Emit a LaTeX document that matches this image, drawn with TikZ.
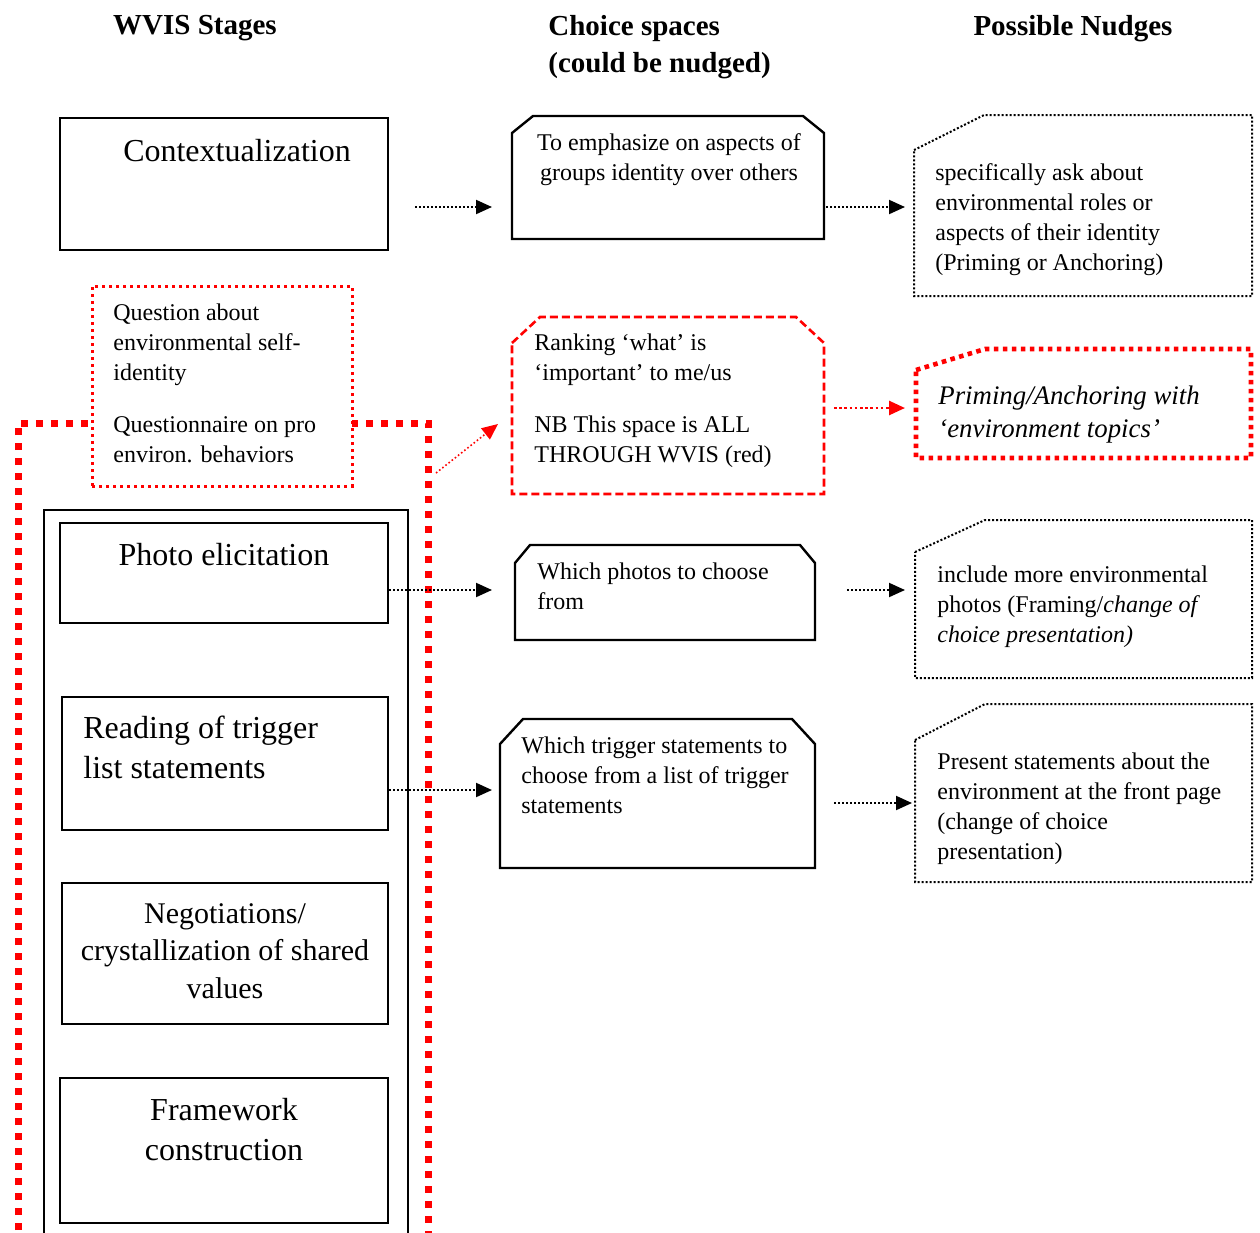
\documentclass[tikz,border=0pt]{standalone}
\usepackage{fontspec}
\setmainfont{Liberation Serif}
\usetikzlibrary{arrows.meta}

% outline with both top corners cut / with the top left corner cut
\newcommand{\twocut}[4][]{\draw[#1] ([yshift=-#4]#2.north west) -- ([xshift=#3]#2.north west) -- ([xshift=-#3]#2.north east) -- ([yshift=-#4]#2.north east) -- (#2.south east) -- (#2.south west) -- cycle;}
\newcommand{\onecut}[4][]{\draw[#1] ([yshift=-#4]#2.north west) -- ([xshift=#3]#2.north west) -- (#2.north east) -- (#2.south east) -- (#2.south west) -- cycle;}

\begin{document}
\begin{tikzpicture}[x=0.5pt,y=-0.5pt,>/.tip={Triangle[length=8pt,width=7pt]},
	stage/.style={draw,line width=1.2pt,inner sep=0pt},
	box/.style={inner sep=0pt,outer sep=0pt},
	cline/.style={line width=1.2pt},
	nline/.style={line width=1pt,dash pattern=on 1pt off 1pt},
	body/.style={inner sep=0pt,anchor=north west,align=left,font=\fontsize{12}{15}\selectfont},
	big/.style={inner sep=0pt,anchor=north,align=center,font=\fontsize{16}{20}\selectfont},
	head/.style={inner sep=0pt,align=left,font=\fontsize{14.5}{18.5}\selectfont\bfseries},
	arr/.style={->,line width=1pt,dash pattern=on 1pt off 1pt},
	redarr/.style={arr,red}]
	\useasboundingbox (0,0) rectangle (1260,1233);
	% column heads
	\node[head,anchor=north] (h1) at (195,15) {WVIS Stages};
	\node[head,anchor=north west] (h2) at (548,15) {Choice spaces\\(could be nudged)};
	\node[head,anchor=north] (h3) at (1073,15) {Possible Nudges};
	% frames round the stages
	\draw[red,line width=3.5pt,dash pattern=on 3.5pt off 4pt] (18,1245) |- (428,423) -- (428,1245);
	\draw[line width=1pt] (44,1245) |- (408,510) -- (408,1245);
	% WVIS stages
	\node[stage,minimum width=164pt,minimum height=66pt] (ctx) at (224,184) {};
	\node[big] (ctxt) at (237,139) {Contextualization};
	\node[draw=red,fill=white,line width=1.5pt,dash pattern=on 1.5pt off 2pt,inner sep=0pt,minimum width=130pt,minimum height=100pt] (qbox) at (222,386) {};
	\node[body] (qtxt) at (113,303) {Question about\\environmental self-\\identity\\[11pt]Questionnaire on pro\\environ. behaviors};
	\node[stage,minimum width=164pt,minimum height=50pt] (photo) at (224,573) {};
	\node[big] (photot) at (224,543) {Photo elicitation};
	\node[stage,minimum width=163pt,minimum height=66.5pt] (read) at (225,763.5) {};
	\node[big,anchor=north west,align=left] (readt) at (83,716) {Reading of trigger\\list statements};
	\node[stage,minimum width=163pt,minimum height=70.5pt] (negot) at (225,953.5) {};
	\node[big,font=\fontsize{15}{18.75}\selectfont] (negott) at (225,903) {Negotiations/\\crystallization of shared\\values};
	\node[stage,minimum width=164pt,minimum height=72.5pt] (frame) at (224,1150.5) {};
	\node[big] (framet) at (224,1098) {Framework\\construction};
	% choice spaces
	\node[box,minimum width=156pt,minimum height=61.5pt] (ch1) at (668,177.5) {};
	\twocut[cline]{ch1}{10.5pt}{8.5pt}
	\node[body,anchor=north,align=center] (ch1t) at (669,133) {To emphasize on aspects of\\groups identity over others};
	\node[box,minimum width=156pt,minimum height=88.5pt] (ch2) at (668,405.5) {};
	\twocut[red,line width=1.3pt,dash pattern=on 4pt off 2pt]{ch2}{14pt}{13pt}
	\node[body] (ch2t) at (534,333) {Ranking `what' is\\`important' to me/us\\[11pt]NB This space is ALL\\THROUGH WVIS (red)};
	\node[box,minimum width=150pt,minimum height=47.5pt] (ch3) at (665,592.5) {};
	\twocut[cline]{ch3}{7.5pt}{9pt}
	\node[body] (ch3t) at (537,562) {Which photos to choose\\from};
	\node[box,minimum width=157.5pt,minimum height=74.5pt] (ch4) at (657.5,793.5) {};
	\twocut[cline]{ch4}{11.5pt}{12.5pt}
	\node[body] (ch4t) at (521,736) {Which trigger statements to\\choose from a list of trigger\\statements};
	% possible nudges
	\node[box,minimum width=169pt,minimum height=90.5pt] (n1) at (1083,205.5) {};
	\onecut[nline]{n1}{35pt}{17.5pt}
	\node[body] (n1t) at (935,163) {specifically ask about\\environmental roles or\\aspects of their identity\\(Priming or Anchoring)};
	\node[box,minimum width=167.5pt,minimum height=54.5pt] (n2) at (1083.5,403.5) {};
	\onecut[red,line width=2.3pt,dash pattern=on 2.3pt off 2.2pt]{n2}{34.5pt}{10.5pt}
	\node[body,font=\fontsize{13.4}{16.5}\selectfont\itshape] (n2t) at (938,385) {Priming/Anchoring with\\`environment topics'};
	\node[box,minimum width=168.5pt,minimum height=79pt] (n3) at (1083.5,599) {};
	\onecut[nline]{n3}{35pt}{16pt}
	\node[body] (n3t) at (937,565) {include more environmental\\photos (Framing/\textit{change of}\\\textit{choice presentation)}};
	\node[box,minimum width=168.5pt,minimum height=89pt] (n4) at (1083.5,793) {};
	\onecut[nline]{n4}{35pt}{18pt}
	\node[body] (n4t) at (937,752) {Present statements about the\\environment at the front page\\(change of choice\\presentation)};
	% arrows
	\draw[arr,shorten <=13pt,shorten >=10pt] (ctx.east |- 0,207) -- (ch1.west |- 0,207);
	\draw[arr,shorten <=1pt,shorten >=4.5pt] (ch1.east |- 0,207) -- (n1.west |- 0,207);
	\coordinate (rs) at (436,473);
	\draw[redarr,line width=0.8pt,dash pattern=on 0.8pt off 1.2pt] (rs) -- ([shift={(-7pt,-9.25pt)}]ch2.west);
	\draw[redarr,line width=1.3pt,dash pattern=on 1.3pt off 1.3pt,shorten <=5pt,shorten >=5.5pt] (ch2.east |- 0,408) -- (n2.west |- 0,408);
	\draw[arr,shorten >=11.5pt] (photo.east |- 0,590) -- (ch3.west |- 0,590);
	\draw[arr,shorten <=16pt,shorten >=5pt] (ch3.east |- 0,590) -- (n3.west |- 0,590);
	\draw[arr,shorten >=4pt] (read.east |- 0,790) -- (ch4.west |- 0,790);
	\draw[arr,shorten <=9.5pt,shorten >=1.5pt] (ch4.east |- 0,803) -- (n4.west |- 0,803);
\end{tikzpicture}
\end{document}
